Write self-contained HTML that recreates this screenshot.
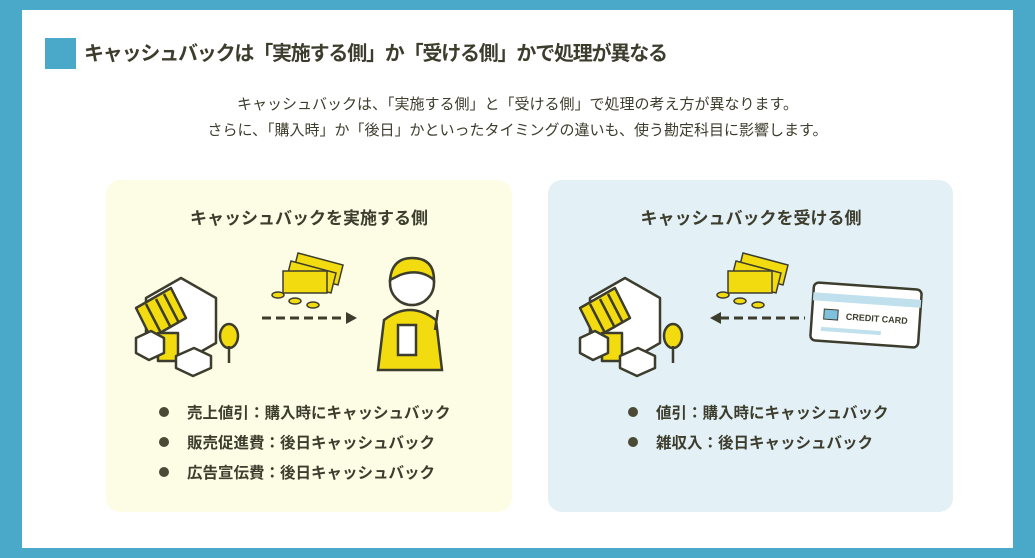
<!DOCTYPE html>
<html><head><meta charset="utf-8"><style>
*{margin:0;padding:0;box-sizing:border-box}
body{width:1035px;height:558px;background:#4aa8c8;position:relative;overflow:hidden;font-family:"Liberation Sans","Noto Sans CJK JP",sans-serif;color:#3d3d2e}
.wrap{position:absolute;left:22px;top:10px;width:991px;height:538px;background:#fff}
.sq{position:absolute;left:45px;top:38px;width:31px;height:31px;background:#4aa8c8}
.title{position:absolute;left:84px;top:40px;font-size:20px;font-weight:bold;line-height:28px;white-space:nowrap;letter-spacing:-1.2px}
.para{position:absolute;left:0;width:1035px;top:92px;text-align:center;font-size:15px;line-height:26px}
.panel{position:absolute;top:180px;height:332px;border-radius:14px}
.p1{left:106px;width:406px;background:#fdfde6}
.p2{left:548px;width:405px;background:#e3f0f5}
.ph{position:absolute;top:204px;font-size:17px;font-weight:bold;text-align:center;width:406px}
.li{position:absolute;font-size:15.5px;font-weight:bold;white-space:nowrap}
.li:before{content:"";display:inline-block;width:10px;height:10px;border-radius:50%;background:#4a4a36;margin-right:18px;vertical-align:1px}
svg{position:absolute;left:0;top:0}
</style></head><body>
<div class="wrap"></div>
<div class="sq"></div>
<div class="title">キャッシュバックは「実施する側」か「受ける側」かで処理が異なる</div>
<div class="para">キャッシュバックは、「実施する側」と「受ける側」で処理の考え方が異なります。<br>さらに、「購入時」か「後日」かといったタイミングの違いも、使う勘定科目に影響します。</div>
<div class="panel p1"></div><div class="panel p2"></div>
<div class="ph" style="left:106px">キャッシュバックを実施する側</div>
<div class="ph" style="left:548px">キャッシュバックを受ける側</div>
<div class="li" style="left:159px;top:401px">売上値引：購入時にキャッシュバック</div>
<div class="li" style="left:159px;top:431px">販売促進費：後日キャッシュバック</div>
<div class="li" style="left:159px;top:461px">広告宣伝費：後日キャッシュバック</div>
<div class="li" style="left:628px;top:401px">値引：購入時にキャッシュバック</div>
<div class="li" style="left:628px;top:431px">雑収入：後日キャッシュバック</div>
<svg width="1035" height="558">
<defs>
<g id="shop" stroke="#3d3d2e" stroke-width="2.5" stroke-linejoin="round">
<polygon points="10,40 45,20 80,40 80,85 45,105 10,85" fill="#fff"/>
<polygon points="0,50 35,30 50,60 15,80" fill="#f2dc10"/>
<line x1="10" y1="46" x2="25" y2="75"/><line x1="20" y1="41" x2="35" y2="70"/><line x1="28" y1="36" x2="43" y2="65"/>
<rect x="22" y="75" width="20" height="28" fill="#f2dc10"/>
<polygon points="0,80 15,73 28,80 28,95 13,102 0,95" fill="#fff"/>
<polygon points="40,98 58,90 75,98 75,110 57,118 40,110" fill="#fff"/>
<ellipse cx="93" cy="78" rx="9" ry="12" fill="#f2dc10"/><line x1="93" y1="88" x2="93" y2="105"/>
</g>
<g id="money" stroke="#3d3d2e" stroke-width="1.5">
<polygon points="15,0 60,12 55,32 10,20" fill="#f2dc10"/>
<polygon points="8,8 53,20 48,40 3,28" fill="#f2dc10"/>
<rect x="0" y="18" width="44" height="22" fill="#f2dc10"/>
<ellipse cx="-5" cy="42" rx="6" ry="3" fill="#f2dc10"/><ellipse cx="12" cy="48" rx="6" ry="3" fill="#f2dc10"/><ellipse cx="30" cy="52" rx="6" ry="3" fill="#f2dc10"/>
</g>
</defs>
<use href="#shop" x="136" y="258"/>
<use href="#money" x="283" y="253"/>
<line x1="262" y1="318" x2="346" y2="318" stroke="#3d3d2e" stroke-width="3" stroke-dasharray="9,5"/>
<polygon points="346,312 357,318 346,324" fill="#3d3d2e"/>
<g stroke="#3d3d2e" stroke-width="2.5" fill="#f2dc10">
<path d="M378,370 L384,320 Q410,300 436,320 L442,370 Z"/>
<circle cx="412" cy="283" r="22" fill="#fff"/>
<path d="M390,280 Q392,258 412,258 Q434,258 434,280 Q420,268 400,275 Z"/>
<rect x="398" y="325" width="18" height="30" fill="#fff"/>
<line x1="435" y1="330" x2="438" y2="310"/>
</g>
<use href="#shop" x="580" y="258"/>
<use href="#money" x="728" y="253"/>
<line x1="720" y1="318" x2="805" y2="318" stroke="#3d3d2e" stroke-width="3" stroke-dasharray="9,5"/>
<polygon points="721,312 710,318 721,324" fill="#3d3d2e"/>
<g transform="rotate(4 866 315)">
<rect x="812" y="286" width="108" height="58" rx="5" fill="#fff" stroke="#3d3d2e" stroke-width="2.5"/>
<rect x="812" y="296" width="108" height="8" fill="#bfe0ec"/>
<rect x="824" y="312" width="14" height="10" fill="#7fc1dc" stroke="#3d3d2e"/>
<text x="846" y="321" font-size="9" font-weight="bold" fill="#3d3d2e" font-family="Liberation Sans,sans-serif">CREDIT CARD</text>
<rect x="822" y="330" width="60" height="4" fill="#bfe0ec"/>
</g>
</svg>
</body></html>
